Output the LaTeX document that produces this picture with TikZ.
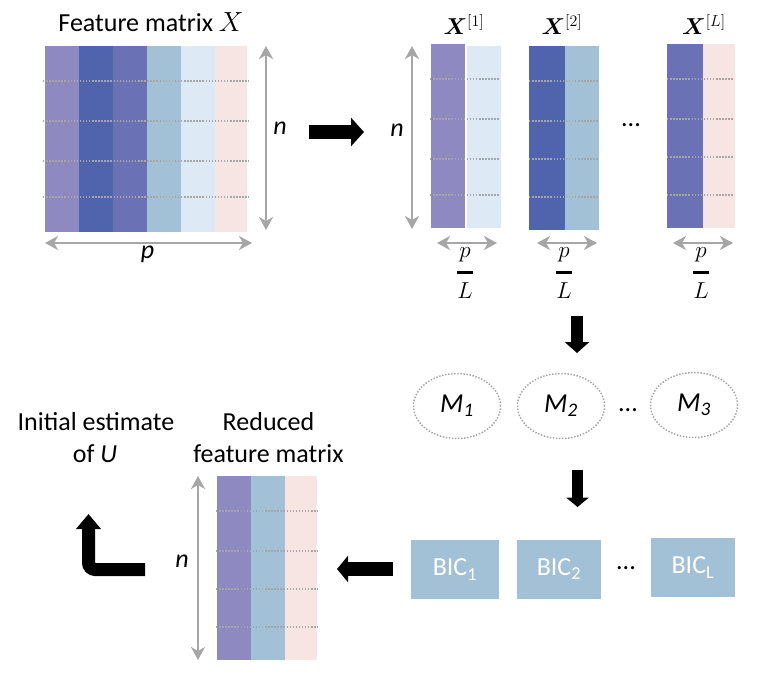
\documentclass[tikz,border=0pt]{standalone}
\usepackage{fontspec}
\setmainfont{Carlito}
\usepackage{amsmath}
\usepackage{bm}
\usetikzlibrary{arrows.meta,shapes.geometric}
\newdimen\pxu \pxu=0.75pt
\definecolor{cA}{HTML}{8E8AC1}
\definecolor{cB}{HTML}{5064AE}
\definecolor{cC}{HTML}{6A71B5}
\definecolor{cD}{HTML}{A3C1D6}
\definecolor{cE}{HTML}{DDEAF6}
\definecolor{cF}{HTML}{F6E5E3}
\definecolor{gridgray}{HTML}{A6A6A6}
\begin{document}
\begin{tikzpicture}[x=0.75pt,y=-0.75pt,
  lbl/.style={font=\fontsize{19.5}{24}\selectfont, inner sep=0pt},
  mathlbl/.style={font=\fontsize{16.5}{20}\selectfont, inner sep=0pt},
  dotrow/.style={draw=gridgray, line width=1.1pt, dash pattern=on 1.1pt off 1.2pt},
  dimarrow/.style={draw=gridgray, line width=1.9pt, >={Stealth[length=9.75pt,width=10.5pt,inset=3pt]}, <->},
  modelnode/.style={ellipse, draw=gridgray, line width=1.1pt, dash pattern=on 1.1pt off 1.2pt,
    minimum width=87\pxu, minimum height=65\pxu, inner sep=0pt, font=\fontsize{20.5}{24}\selectfont\itshape},
  bicnode/.style={rectangle, fill=cD, minimum width=86\pxu, minimum height=59\pxu, inner sep=0pt,
    text=white, font=\fontsize{19.5}{24}\selectfont},
]
\useasboundingbox (0,0) rectangle (778,688);

% ---------- Feature matrix X ----------
\fill[cA] (45,46) rectangle (79,232);
\fill[cB] (79,46) rectangle (113,232);
\fill[cC] (113,46) rectangle (147,232);
\fill[cD] (147,46) rectangle (181,232);
\fill[cE] (181,46) rectangle (215,232);
\fill[cF] (215,46) rectangle (247,232);
\foreach \yy in {81,121,161,197} \draw[dotrow] (43,\yy) -- (249,\yy);
\node[lbl, anchor=base] (ttl) at (151,32) {Feature matrix $X$};
\coordinate (nAt) at (266,46); \coordinate (nAb) at (266,230);
\draw[dimarrow] (nAt) -- (nAb);
\node[lbl, anchor=base] (nA) at (280,135) {\textit{n}};
\coordinate (pAl) at (45,243); \coordinate (pAr) at (252,243);
\draw[dimarrow] (pAl) -- (pAr);
\node[lbl, anchor=base] (pA) at (147.5,258) {\textit{p}};

% ---------- split blocks ----------
\fill[cA] (431,44) rectangle (465,228);
\fill[cE] (467,46) rectangle (501,228);
\foreach \yy in {79,119,159,195} \draw[dotrow] (430,\yy) -- (500,\yy);
\fill[cB] (529,46) rectangle (565,230);
\fill[cD] (565,46) rectangle (599,230);
\foreach \yy in {81,121,159,197} \draw[dotrow] (529,\yy) -- (598,\yy);
\fill[cC] (667,44) rectangle (703,228);
\fill[cF] (703,44) rectangle (735,228);
\foreach \yy in {79,119,157,195} \draw[dotrow] (667,\yy) -- (734,\yy);

\node[mathlbl, anchor=base] (x1) at (464,35) {$\bm{X}^{[1]}$};
\node[mathlbl, anchor=base] (x2) at (562,35) {$\bm{X}^{[2]}$};
\node[mathlbl, anchor=base] (xL) at (704,35) {$\bm{X}^{[L]}$};

\coordinate (nBt) at (412,46); \coordinate (nBb) at (412,229);
\draw[dimarrow] (nBt) -- (nBb);
\node[lbl, anchor=base] (nB) at (397,137) {\textit{n}};
\node[lbl, anchor=base] (dots1) at (631,127) {...};

\coordinate (w1l) at (437,243); \coordinate (w1r) at (497,243);
\coordinate (w2l) at (537,243); \coordinate (w2r) at (597,243);
\coordinate (w3l) at (673,243); \coordinate (w3r) at (733,243);
\draw[dimarrow] (w1l) -- (w1r);
\draw[dimarrow] (w2l) -- (w2r);
\draw[dimarrow] (w3l) -- (w3r);
\node[mathlbl] (f1) at (465,273) {$\genfrac{}{}{2.25pt}{0}{p}{L}$};
\node[mathlbl] (f2) at (564,273) {$\genfrac{}{}{2.25pt}{0}{p}{L}$};
\node[mathlbl] (f3) at (701,273) {$\genfrac{}{}{2.25pt}{0}{p}{L}$};

% ---------- models ----------
\node[modelnode] (m1) at (457,406) {M\textsubscript{1}};
\node[modelnode] (m2) at (561,406) {M\textsubscript{2}};
\node[modelnode] (m3) at (694,405) {M\textsubscript{3}};
\node[lbl, anchor=base] (dots2) at (628,411) {...};

% ---------- BIC ----------
\node[bicnode, minimum width=88\pxu] (b1) at (455,569.5) {BIC\textsubscript{1}};
\node[bicnode, minimum width=84\pxu] (b2) at (559,569) {BIC\textsubscript{2}};
\node[bicnode, minimum width=84\pxu] (b3) at (693,567.5) {BIC\textsubscript{L}};
\node[lbl, anchor=base] (dots3) at (626,569) {...};

% ---------- reduced matrix ----------
\fill[cA] (217,476) rectangle (251,660);
\fill[cD] (251,476) rectangle (285,660);
\fill[cF] (285,476) rectangle (317,660);
\foreach \yy in {511,551,589,627} \draw[dotrow] (216,\yy) -- (318,\yy);
\coordinate (nCt) at (198,476); \coordinate (nCb) at (198,660);
\draw[dimarrow] (nCt) -- (nCb);
\node[lbl, anchor=base] (nC) at (182,567) {\textit{n}};
\node[lbl, anchor=base] (red1) at (268.5,430) {Reduced};
\node[lbl, anchor=base] (red2) at (268.5,462) {feature matrix};

\node[lbl, anchor=base] (ini1) at (96,430) {Initial estimate};
\node[lbl, anchor=base] (ini2) at (95,462) {of \textit{U}};

% ---------- big black arrows ----------
\coordinate (a1s) at (309,132); \coordinate (a1e) at (364,132);
\draw[line width=10.5pt, -{Triangle[length=9.75pt,width=21pt]}] (a1s) -- (a1e);
\coordinate (a2s) at (577,316); \coordinate (a2e) at (577,353);
\draw[line width=9pt, -{Triangle[length=8.25pt,width=18pt]}] (a2s) -- (a2e);
\coordinate (a3s) at (577.5,470); \coordinate (a3e) at (577.5,507);
\draw[line width=8.25pt, -{Triangle[length=7pt,width=16.5pt]}] (a3s) -- (a3e);
\coordinate (a4s) at (393,569); \coordinate (a4e) at (337,569);
\draw[line width=10.5pt, -{Triangle[length=8.25pt,width=19.5pt]}] (a4s) -- (a4e);
\coordinate (a5s) at (145,569.5); \coordinate (a5c) at (88.5,569.5); \coordinate (a5e) at (88.5,514);
\draw[line width=9.75pt, rounded corners=5pt, -{Triangle[length=11.25pt,width=18pt]}] (a5s) -- (a5c) -- (a5e);
\end{tikzpicture}
\end{document}
